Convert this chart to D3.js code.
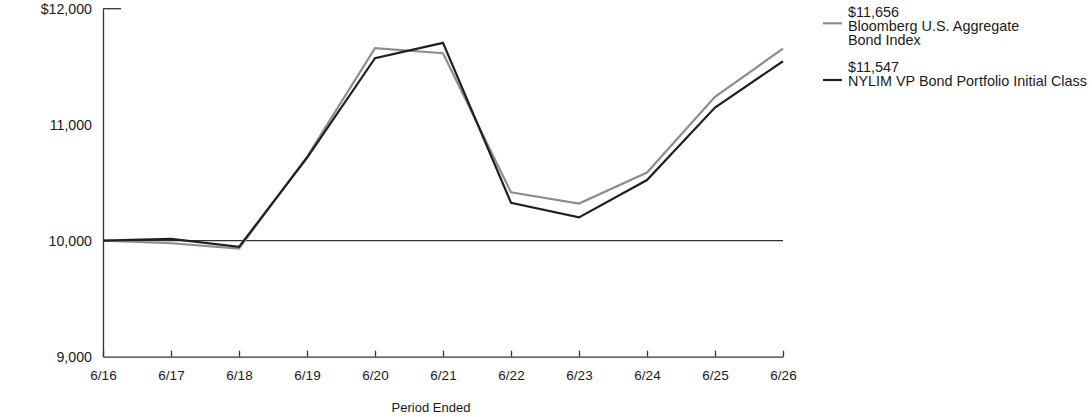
<!DOCTYPE html>
<html>
<head>
<meta charset="utf-8">
<script src="https://cdn.jsdelivr.net/npm/d3@7"></script>
<style>
  body { margin: 0; background: #fff; }
  text { font-family: "Liberation Sans", Arial, sans-serif; fill: #1a1a1a; }
</style>
</head>
<body>
<div id="chart"></div>
<script>
// values
const periods = ['6/16', '6/17', '6/18', '6/19', '6/20', '6/21', '6/22', '6/23', '6/24', '6/25', '6/26'];
const bondIndex = [10000, 9978, 9932, 10722, 11659, 11616, 10417, 10320, 10587, 11241, 11656];
const nylim = [10000, 10016, 9947, 10715, 11573, 11706, 10327, 10201, 10523, 11148, 11547];
const yTicks = [9000, 10000, 11000, 12000];
const legendItems = [
    { lines: ['$11,656', 'Bloomberg U.S. Aggregate', 'Bond Index'], color: '#8d8d8d' },
    { lines: ['$11,547', 'NYLIM VP Bond Portfolio Initial Class'], color: '#231f20' }
];

const width = 1092, height = 417;
const margin = { left: 103, top: 8.7, right: 309, bottom: 60.3 };

const svg = d3.select('#chart')
    .append('svg')
    .attr('width', width)
    .attr('height', height);

const x = d3.scalePoint()
    .domain(periods)
    .range([margin.left, width - margin.right]);

const y = d3.scaleLinear()
    .domain([9000, 12000])
    .range([height - margin.bottom, margin.top]);

// y axis - no tick marks except the little cap at the top
const yAxis = svg.append('g')
    .attr('transform', `translate(${margin.left},0)`)
    .call(d3.axisLeft(y).tickValues(yTicks).tickSize(0).tickPadding(11)
        .tickFormat(d => d === 12000 ? '$' + d3.format(',')(d) : d3.format(',')(d)));
yAxis.select('.domain').attr('stroke', '#333').attr('stroke-width', 1.3);
yAxis.selectAll('text').style('font-size', '14.2px').attr('dy', '0.35em');

svg.append('line')
    .attr('x1', margin.left).attr('x2', margin.left + 18)
    .attr('y1', y(12000)).attr('y2', y(12000))
    .attr('stroke', '#333').attr('stroke-width', 1.3);

// x axis, ticks point up into the plot
const xAxis = svg.append('g')
    .attr('transform', `translate(0,${y(9000)})`)
    .call(d3.axisBottom(x).tickSizeInner(-6).tickSizeOuter(0).tickPadding(14));
xAxis.select('.domain').attr('stroke', '#333').attr('stroke-width', 1.3);
xAxis.selectAll('.tick line').attr('stroke', '#333').attr('stroke-width', 1.3);
xAxis.selectAll('text').style('font-size', '13.5px');

// 10,000 reference line
svg.append('line')
    .attr('x1', margin.left).attr('x2', x(periods[periods.length - 1]))
    .attr('y1', y(10000)).attr('y2', y(10000))
    .attr('stroke', '#333').attr('stroke-width', 1.3);

svg.append('text')
    .attr('x', 431).attr('y', 412)
    .attr('text-anchor', 'middle')
    .style('font-size', '13px')
    .text('Period Ended');

const line = d3.line()
    .x((d, i) => x(periods[i]))
    .y(d => y(d));

svg.append('path')
    .datum(bondIndex)
    .attr('fill', 'none')
    .attr('stroke', legendItems[0].color)
    .attr('stroke-width', 2.2)
    .attr('d', line);

svg.append('path')
    .datum(nylim)
    .attr('fill', 'none')
    .attr('stroke', legendItems[1].color)
    .attr('stroke-width', 2.2)
    .attr('d', line);

// legend
const legendTop = [16.5, 71.5];
const legendLineY = [23.3, 80];
legendItems.forEach((item, k) => {
    const g = svg.append('g');
    g.append('line')
        .attr('x1', 823).attr('x2', 842)
        .attr('y1', legendLineY[k]).attr('y2', legendLineY[k])
        .attr('stroke', item.color).attr('stroke-width', 2.2);
    item.lines.forEach((t, j) => {
        g.append('text')
            .attr('x', 848)
            .attr('y', legendTop[k] + j * 14)
            .style('font-size', '14.4px')
            .text(t);
    });
});
</script>
</body>
</html>
